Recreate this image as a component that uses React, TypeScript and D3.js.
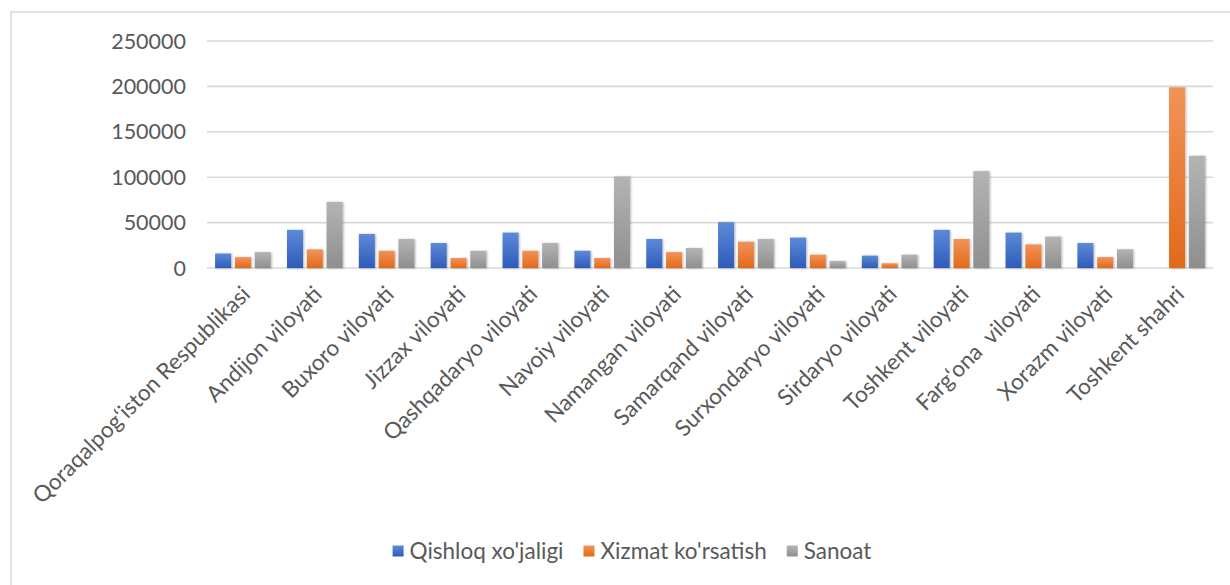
import React, { useEffect, useRef } from 'react';
import * as d3 from 'd3';

// Regions (x axis categories)
const regions = [
  'Qoraqalpog‘iston Respublikasi',
  'Andijon viloyati',
  'Buxoro viloyati',
  'Jizzax viloyati',
  'Qashqadaryo viloyati',
  'Navoiy viloyati',
  'Namangan viloyati',
  'Samarqand viloyati',
  'Surxondaryo viloyati',
  'Sirdaryo viloyati',
  'Toshkent viloyati',
  'Farg‘ona  viloyati',
  'Xorazm viloyati',
  'Toshkent shahri',
];

const seriesNames = ['Qishloq xo\'jaligi', 'Xizmat ko\'rsatish', 'Sanoat'];

const qishloq = [16000, 42000, 37500, 27500, 39000, 19000, 32000, 50500, 33500, 13600, 42000, 39000, 27500, 0];
const xizmat = [12000, 20500, 19000, 11000, 19000, 11000, 17500, 29000, 14700, 5200, 32000, 26000, 12000, 199000];
const sanoat = [17500, 72800, 32000, 19000, 27500, 100800, 22000, 32000, 7700, 14700, 106700, 34600, 20600, 123600];

const yTicks = [0, 50000, 100000, 150000, 200000, 250000];

// gradient stops: [top, bottom]
const palette = [
  ['#5d8ad8', '#2e5bb8'],
  ['#f29359', '#e2691a'],
  ['#b4b4b4', '#8f8f8f'],
];

const W = 1230;
const H = 585;
const FONT = 'Lato, "Liberation Sans", sans-serif';

const App = () => {
  const ref = useRef<SVGSVGElement>(null);

  useEffect(() => {
    const svg = d3.select(ref.current);
    svg.selectAll('*').remove();

    const values = [qishloq, xizmat, sanoat];
    const rows = regions.map((r, i) => ({ region: r, vals: values.map((s) => s[i]) }));

    const x0 = d3.scaleBand().domain(regions).range([207, 1213]);
    const x1 = d3
      .scaleBand()
      .domain(d3.range(seriesNames.length).map(String))
      .range([0, x0.bandwidth()])
      .paddingInner(0.19)
      .paddingOuter(0.41);
    const y = d3.scaleLinear().domain([0, 250000]).range([268, 41]);

    const defs = svg.append('defs');
    palette.forEach((c, i) => {
      const g = defs
        .append('linearGradient')
        .attr('id', `grad${i}`)
        .attr('x1', 0)
        .attr('y1', 0)
        .attr('x2', 0)
        .attr('y2', 1);
      g.append('stop').attr('offset', '0%').attr('stop-color', c[0]);
      g.append('stop').attr('offset', '100%').attr('stop-color', c[1]);
    });
    const f = defs
      .append('filter')
      .attr('id', 'shadow')
      .attr('x', '-50%')
      .attr('y', '-20%')
      .attr('width', '200%')
      .attr('height', '140%');
    f.append('feDropShadow')
      .attr('dx', 1)
      .attr('dy', 0.5)
      .attr('stdDeviation', 1.3)
      .attr('flood-color', '#000')
      .attr('flood-opacity', 0.3);

    svg.append('rect').attr('width', W).attr('height', H).attr('fill', '#fff');
    // chart frame
    svg
      .append('rect')
      .attr('x', 11)
      .attr('y', 12)
      .attr('width', W + 40)
      .attr('height', H + 40)
      .attr('fill', 'none')
      .attr('stroke', '#d9d9d9')
      .attr('stroke-width', 1.5);

    // gridlines
    svg
      .append('g')
      .selectAll('line')
      .data(yTicks)
      .join('line')
      .attr('x1', 207)
      .attr('x2', 1213)
      .attr('y1', (d) => y(d))
      .attr('y2', (d) => y(d))
      .attr('stroke', '#d9d9d9')
      .attr('stroke-width', 1.6);

    // y labels
    svg
      .append('g')
      .selectAll('text')
      .data(yTicks)
      .join('text')
      .attr('x', 186)
      .attr('y', (d) => y(d))
      .attr('dy', '0.35em')
      .attr('text-anchor', 'end')
      .attr('fill', '#595959')
      .style('font', `21.5px ${FONT}`)
      .text((d) => String(d));

    // bars
    const group = svg
      .append('g')
      .selectAll('g')
      .data(rows)
      .join('g')
      .attr('transform', (d) => `translate(${x0(d.region)},0)`);

    group
      .selectAll('rect')
      .data((d) => d.vals.map((v, i) => ({ v, i })).filter((b) => b.v > 0))
      .join('rect')
      .attr('x', (d) => x1(String(d.i)))
      .attr('width', x1.bandwidth())
      .attr('y', (d) => y(d.v))
      .attr('height', (d) => y(0) - y(d.v))
      .attr('fill', (d) => `url(#grad${d.i})`)
      .attr('filter', 'url(#shadow)');

    // category labels
    svg
      .append('g')
      .selectAll('text')
      .data(regions)
      .join('text')
      .attr('transform', (d) => `translate(${x0(d) + x0.bandwidth() / 2 + 3},290) rotate(-45)`)
      .attr('dy', '0.35em')
      .attr('text-anchor', 'end')
      .attr('fill', '#595959')
      .attr('xml:space', 'preserve')
      .style('white-space', 'pre')
      .style('font', `22.5px ${FONT}`)
      .text((d) => d);

    // legend
    const legend = svg.append('g').attr('transform', 'translate(0,551)');
    const items = legend
      .selectAll('g')
      .data(seriesNames)
      .join('g');
    items
      .append('rect')
      .attr('width', 11)
      .attr('height', 11)
      .attr('y', -5.5)
      .attr('fill', (d, i) => `url(#grad${i})`);
    const labels = items
      .append('text')
      .attr('x', 17)
      .attr('dy', '0.35em')
      .attr('fill', '#595959')
      .style('font', `22.5px ${FONT}`)
      .text((d) => d);

    const widths = labels.nodes().map((n) => (n as SVGTextElement).getComputedTextLength());
    const gap = 20;
    const itemW = widths.map((w) => 17 + w);
    const total = d3.sum(itemW) + gap * (itemW.length - 1);
    let cur = 632 - total / 2;
    items.attr('transform', (d, i) => {
      const t = `translate(${cur},0)`;
      cur += itemW[i] + gap;
      return t;
    });
  }, []);

  return (
    <svg
      ref={ref}
      width={W}
      height={H}
      style={{ position: 'absolute', left: 0, top: 0, display: 'block' }}
    />
  );
};

export default App;
